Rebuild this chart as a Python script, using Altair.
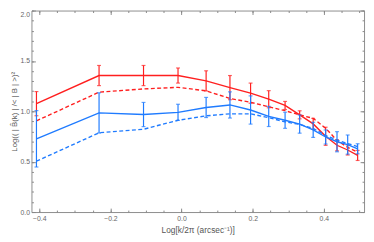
import altair as alt
import pandas as pd

# ---- data ----
log_k = [-0.408, -0.232, -0.107, -0.010, 0.069, 0.136, 0.194, 0.245,
         0.291, 0.332, 0.370, 0.405, 0.437, 0.467, 0.495]
red_solid = [1.076, 1.355, 1.355, 1.355, 1.302, 1.235, 1.180, 1.120,
             1.058, 0.965, 0.875, 0.752, 0.663, 0.616, 0.562]
red_err = [0.12, 0.10, 0.10, 0.075, 0.10, 0.12, 0.10, 0.085,
           0.04, 0.04, 0.055, 0.09, 0.055, 0.05, 0.05]
red_dashed = [0.905, 1.190, 1.222, 1.238, 1.203, 1.127, 1.090, 1.045,
              1.006, 0.965, 0.930, 0.832, 0.711, 0.641, 0.594]
blue_solid = [0.727, 0.984, 0.968, 0.990, 1.038, 1.063, 1.013, 0.949,
              0.911, 0.873, 0.816, 0.745, 0.698, 0.670, 0.628]
blue_err = [0.28, 0.20, 0.12, 0.08, 0.10, 0.13, 0.14, 0.10,
            0.08, 0.09, 0.075, 0.07, 0.10, 0.095, 0.05]
blue_dashed = [0.505, 0.787, 0.822, 0.911, 0.955, 0.975, 0.975, 0.937,
               0.895, 0.870, 0.830, 0.760, 0.715, 0.680, 0.650]

x_major = [-0.4, -0.2, 0.0, 0.2, 0.4]
x_minor = [-0.4, -0.35, -0.3, -0.25, -0.2, -0.15, -0.1, -0.05, 0.0, 0.05,
           0.1, 0.15, 0.2, 0.25, 0.3, 0.35, 0.4, 0.45, 0.5]
y_major = [0.0, 0.5, 1.0, 1.5, 2.0]
y_minor = [0.0, 0.1, 0.2, 0.3, 0.4, 0.5, 0.6, 0.7, 0.8, 0.9, 1.0, 1.1, 1.2,
           1.3, 1.4, 1.5, 1.6, 1.7, 1.8, 1.9, 2.0]

RED = "#ff1f1f"
BLUE = "#1f7bff"
W, H = 340, 206
X_DOMAIN = [-0.422, 0.513]
Y_DOMAIN = [0, 2]
FONT = "Liberation Sans"
TICK_COLOR = "#888888"

lines = pd.DataFrame({"x": log_k, "rs": red_solid, "rd": red_dashed,
                      "bs": blue_solid, "bd": blue_dashed})
errs = pd.DataFrame({
    "x": log_k,
    "r_lo": [v - e for v, e in zip(red_solid, red_err)],
    "r_hi": [v + e for v, e in zip(red_solid, red_err)],
    "b_lo": [v - e for v, e in zip(blue_solid, blue_err)],
    "b_hi": [v + e for v, e in zip(blue_solid, blue_err)],
})

xscale = alt.Scale(domain=X_DOMAIN, nice=False, zero=False)
yscale = alt.Scale(domain=Y_DOMAIN, nice=False, zero=False)

# axes
ax_x_main = alt.Axis(orient="bottom", values=x_major, format=".1f", ticks=False,
                     domain=False, grid=False, labelFontSize=7, labelColor="#666666",
                     labelPadding=3, title="Log[k/2π (arcsec⁻¹)]", titleFontSize=8.5,
                     titleFontWeight="normal", titleColor="#555555", titlePadding=4)
ax_y_main = alt.Axis(orient="left", values=y_major, format=".1f", ticks=False,
                     domain=False, grid=False, labelFontSize=7, labelColor="#666666",
                     labelPadding=2,
                     labelBaseline={"condition": {"test": "datum.value >= 2", "value": "top"},
                                    "value": "middle"},
                     title="Log(( | B\u0302(k) | /< | B | >)²", titleFontSize=8,
                     titleFontWeight="normal", titleColor="#555555", titlePadding=2)


def tick_axis(orient, offset, values, size):
    return alt.Axis(orient=orient, offset=offset, values=values, labels=False,
                    domain=False, grid=False, ticks=True, tickSize=size,
                    tickColor=TICK_COLOR, tickWidth=1, title=None)


x_axes = [ax_x_main,
          tick_axis("top", -H, x_major, 4), tick_axis("top", -H, x_minor, 2),
          tick_axis("bottom", -H, x_major, 4), tick_axis("bottom", -H, x_minor, 2)]
y_axes = [ax_y_main,
          tick_axis("right", -W, y_major, 4), tick_axis("right", -W, y_minor, 2),
          tick_axis("left", -W, y_major, 4), tick_axis("left", -W, y_minor, 2)]

layers = []

# red error bars
layers.append(alt.Chart(errs).mark_rule(color=RED, strokeWidth=1.2).encode(
    x=alt.X("x:Q", scale=xscale, axis=x_axes[4]),
    y=alt.Y("r_lo:Q", scale=yscale, axis=y_axes[4]),
    y2="r_hi:Q"))
for f in ["r_lo", "r_hi"]:
    layers.append(alt.Chart(errs).mark_tick(color=RED, orient="horizontal", size=4,
                                            thickness=1.2).encode(
        x=alt.X("x:Q", scale=xscale, axis=None),
        y=alt.Y(f"{f}:Q", scale=yscale, axis=None)))

# red lines
layers.append(alt.Chart(lines).mark_line(color=RED, strokeWidth=1.4).encode(
    x=alt.X("x:Q", scale=xscale, axis=x_axes[0]),
    y=alt.Y("rs:Q", scale=yscale, axis=y_axes[0])))
layers.append(alt.Chart(lines).mark_line(color=RED, strokeWidth=1.4,
                                         strokeDash=[4, 2.5]).encode(
    x=alt.X("x:Q", scale=xscale, axis=x_axes[1]),
    y=alt.Y("rd:Q", scale=yscale, axis=y_axes[1])))

# blue error bars
layers.append(alt.Chart(errs).mark_rule(color=BLUE, strokeWidth=1.2).encode(
    x=alt.X("x:Q", scale=xscale, axis=None),
    y=alt.Y("b_lo:Q", scale=yscale, axis=None),
    y2="b_hi:Q"))
for f in ["b_lo", "b_hi"]:
    layers.append(alt.Chart(errs).mark_tick(color=BLUE, orient="horizontal", size=4,
                                            thickness=1.2).encode(
        x=alt.X("x:Q", scale=xscale, axis=None),
        y=alt.Y(f"{f}:Q", scale=yscale, axis=None)))

# blue lines
layers.append(alt.Chart(lines).mark_line(color=BLUE, strokeWidth=1.4).encode(
    x=alt.X("x:Q", scale=xscale, axis=x_axes[2]),
    y=alt.Y("bs:Q", scale=yscale, axis=y_axes[2])))
layers.append(alt.Chart(lines).mark_line(color=BLUE, strokeWidth=1.4,
                                         strokeDash=[4, 2.5]).encode(
    x=alt.X("x:Q", scale=xscale, axis=x_axes[3]),
    y=alt.Y("bd:Q", scale=yscale, axis=y_axes[3])))

chart = alt.layer(*layers).resolve_axis(x="independent", y="independent").properties(
    width=W, height=H, autosize="none",
    padding={"left": 24, "top": 0, "right": 2, "bottom": 28},
).configure_view(stroke="#8c8c8c", strokeWidth=1).configure_axis(
    labelFont=FONT, titleFont=FONT)

chart.save("out.html", embed_options={"renderer": "svg", "actions": False})
